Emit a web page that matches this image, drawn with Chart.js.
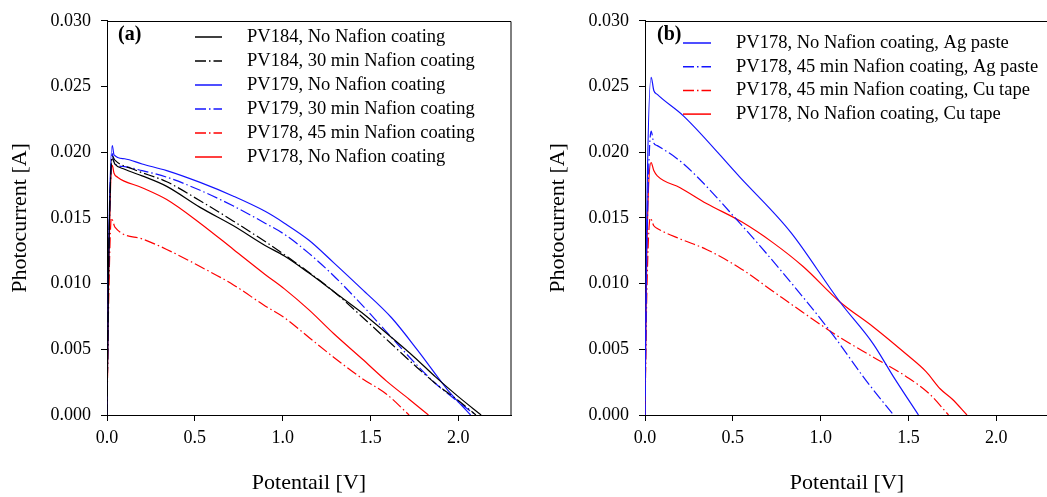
<!DOCTYPE html>
<html>
<head>
<meta charset="utf-8">
<script src="https://cdn.jsdelivr.net/npm/chart.js@4.4.0/dist/chart.umd.min.js"></script>
<style>
  html, body { margin: 0; padding: 0; background: #fff; overflow: hidden; }
  body { width: 1047px; height: 497px; position: relative; }
  canvas { position: absolute; top: 0; }
  #chartA { left: 0; }
  #chartB { left: 538px; }
</style>
</head>
<body>
<canvas id="chartA" width="530" height="497"></canvas>
<canvas id="chartB" width="530" height="497"></canvas>
<script>
// axis ticks
const xTicks = [0, 0.5, 1.0, 1.5, 2.0];
const yTicks = [0, 0.005, 0.010, 0.015, 0.020, 0.025, 0.030];

// panel (a) series, potential [V] / photocurrent [A]
const pv184NoV = [0, 0.01, 0.03, 0.045, 0.1, 0.2, 0.34, 0.53, 0.72, 0.9, 1.01, 1.15, 1.29, 1.45, 1.62, 1.75, 1.87, 2.0, 2.13];
const pv184NoI = [0, 0.012, 0.0195, 0.0191, 0.0187, 0.0182, 0.0174, 0.0158, 0.0144, 0.0129, 0.0121, 0.0108, 0.0094, 0.0078, 0.0059, 0.0044, 0.0029, 0.0014, 0];

const pv184CoatV = [0, 0.01, 0.03, 0.045, 0.15, 0.34, 0.53, 0.72, 1.01, 1.29, 1.45, 1.62, 1.75, 1.87, 2.0, 2.10];
const pv184CoatI = [0, 0.012, 0.0197, 0.0194, 0.0187, 0.01775, 0.0163, 0.01475, 0.0122, 0.0094, 0.0075, 0.0054, 0.0038, 0.0024, 0.0011, 0];

const pv179NoV = [0, 0.01, 0.03, 0.04, 0.1, 0.2, 0.34, 0.53, 0.72, 0.9, 1.01, 1.15, 1.29, 1.45, 1.62, 1.77, 1.94, 2.07];
const pv179NoI = [0, 0.013, 0.0205, 0.0198, 0.0195, 0.0191, 0.0186, 0.0177, 0.01665, 0.0155, 0.0146, 0.0133, 0.0116, 0.0096, 0.0074, 0.0049, 0.0019, 0];

const pv179CoatV = [0, 0.01, 0.03, 0.04, 0.1, 0.2, 0.34, 0.53, 0.72, 0.9, 1.01, 1.15, 1.29, 1.45, 1.62, 1.75, 1.87, 2.0, 2.10];
const pv179CoatI = [0, 0.012, 0.0199, 0.0192, 0.0189, 0.0186, 0.0181, 0.0171, 0.0159, 0.0146, 0.01375, 0.0123, 0.0106, 0.0084, 0.0059, 0.0040, 0.0024, 0.0010, 0];

const pv178CoatV = [0, 0.01, 0.025, 0.045, 0.2, 0.34, 0.53, 0.72, 0.9, 1.01, 1.15, 1.29, 1.45, 1.59, 1.72];
const pv178CoatI = [0, 0.009, 0.015, 0.0143, 0.0134, 0.0126, 0.0113, 0.0099, 0.0083, 0.0074, 0.0059, 0.0044, 0.0028, 0.0016, 0];

const pv178NoV = [0, 0.01, 0.03, 0.04, 0.06, 0.2, 0.34, 0.53, 0.72, 0.9, 1.01, 1.15, 1.29, 1.45, 1.59, 1.72, 1.83];
const pv178NoI = [0, 0.011, 0.019, 0.0184, 0.0181, 0.0173, 0.0164, 0.0146, 0.0126, 0.0107, 0.0096, 0.0080, 0.0062, 0.0043, 0.0026, 0.0012, 0];

// panel (b) series
const agNoV = [0, 0.01, 0.035, 0.05, 0.07, 0.22, 0.54, 0.83, 1.11, 1.30, 1.415, 1.557];
const agNoI = [0, 0.015, 0.0257, 0.0247, 0.0244, 0.02275, 0.0181, 0.0139, 0.0086, 0.0054, 0.0029, 0];

const agCoatV = [0, 0.01, 0.035, 0.05, 0.07, 0.22, 0.54, 0.83, 1.07, 1.26, 1.415];
const agCoatI = [0, 0.012, 0.0216, 0.0207, 0.0205, 0.0191, 0.0146, 0.0101, 0.0061, 0.0026, 0];

const cuCoatV = [0, 0.01, 0.03, 0.05, 0.07, 0.2, 0.35, 0.55, 0.73, 0.9, 1.11, 1.3, 1.49, 1.62, 1.728];
const cuCoatI = [0, 0.009, 0.015, 0.0144, 0.0142, 0.0134, 0.0126, 0.0111, 0.0094, 0.0078, 0.0059, 0.0044, 0.0029, 0.0016, 0];

const cuNoV = [0, 0.01, 0.035, 0.05, 0.07, 0.2, 0.35, 0.55, 0.73, 0.9, 1.11, 1.3, 1.49, 1.6, 1.68, 1.75, 1.833];
const cuNoI = [0, 0.012, 0.0192, 0.0186, 0.0182, 0.0173, 0.0161, 0.0147, 0.0131, 0.0113, 0.0086, 0.0067, 0.0046, 0.0033, 0.0020, 0.0012, 0];

const FONT = "'Liberation Serif', 'Times New Roman', serif";
const DASH_DOT = [11, 3, 1.5, 3];

function points(vs, is) {
  return vs.map((v, i) => ({ x: v, y: is[i] }));
}

function series(label, vs, is, color, dashed) {
  return {
    label: label,
    data: points(vs, is),
    borderColor: color,
    borderWidth: 1.2,
    borderDash: dashed ? DASH_DOT : [],
    pointRadius: 0,
    fill: false,
    cubicInterpolationMode: "monotone"
  };
}

// legend, panel tag and top/right frame drawn inside the plot
const innerLegend = {
  id: "innerLegend",
  afterDatasetsDraw(chart, args, opts) {
    const ctx = chart.ctx;
    const area = chart.chartArea;
    ctx.save();
    ctx.font = "18.5px " + FONT;
    ctx.textBaseline = "middle";
    chart.data.datasets.forEach((ds, i) => {
      const y = opts.top + i * opts.row;
      ctx.strokeStyle = ds.borderColor;
      ctx.lineWidth = 1.5;
      ctx.setLineDash(ds.borderDash);
      ctx.beginPath();
      ctx.moveTo(opts.lineStart, y);
      ctx.lineTo(opts.lineEnd, y);
      ctx.stroke();
      ctx.setLineDash([]);
      ctx.fillStyle = "#000";
      ctx.fillText(ds.label, opts.textStart, y);
    });
    ctx.font = "bold 20px " + FONT;
    ctx.fillText(opts.tag, opts.tagX, opts.tagY);

    ctx.strokeStyle = "#000";
    ctx.lineWidth = 1;
    ctx.beginPath();
    ctx.moveTo(area.left, Math.round(area.top) + 0.5);
    ctx.lineTo(area.right, Math.round(area.top) + 0.5);
    ctx.lineTo(area.right, area.bottom);
    ctx.stroke();
    ctx.restore();
  }
};

function makeChart(id, datasets, legendOpts) {
  return new Chart(document.getElementById(id), {
    type: "line",
    data: { datasets: datasets },
    plugins: [innerLegend],
    options: {
      responsive: false,
      animation: false,
      layout: { padding: { top: 13, right: 19, left: 0, bottom: 0 } },
      plugins: {
        legend: { display: false },
        tooltip: { enabled: false },
        innerLegend: legendOpts
      },
      scales: {
        x: {
          type: "linear",
          min: 0,
          max: 2.3,
          afterBuildTicks: (scale) => { scale.ticks = xTicks.map((v) => ({ value: v })); },
          afterFit: (scale) => { scale.height = 82; },
          ticks: {
            color: "#000",
            padding: 6,
            font: { family: FONT, size: 18 },
            callback: (v) => Number(v).toFixed(1),
            maxRotation: 0
          },
          grid: { drawOnChartArea: false, drawTicks: true, tickLength: 6, color: "#000" },
          border: { display: true, color: "#000", width: 1 },
          title: {
            display: true,
            text: "Potentail [V]",
            color: "#000",
            font: { family: FONT, size: 22 },
            padding: { top: 0, bottom: 1 }
          }
        },
        y: {
          type: "linear",
          min: 0,
          max: 0.03,
          afterBuildTicks: (scale) => { scale.ticks = yTicks.map((v) => ({ value: v })); },
          afterFit: (scale) => { scale.width = 107; },
          ticks: {
            color: "#000",
            padding: 10,
            font: { family: FONT, size: 18 },
            callback: (v) => Number(v).toFixed(3)
          },
          grid: { drawOnChartArea: false, drawTicks: true, tickLength: 6, color: "#000" },
          border: { display: true, color: "#000", width: 1 },
          title: {
            display: true,
            text: "Photocurrent [A]",
            color: "#000",
            font: { family: FONT, size: 22 },
            padding: { top: 7, bottom: 0 }
          }
        }
      }
    }
  });
}

makeChart("chartA", [
  series("PV184, No Nafion coating", pv184NoV, pv184NoI, "#000", false),
  series("PV184, 30 min Nafion coating", pv184CoatV, pv184CoatI, "#000", true),
  series("PV179, No Nafion coating", pv179NoV, pv179NoI, "#1414ff", false),
  series("PV179, 30 min Nafion coating", pv179CoatV, pv179CoatI, "#1414ff", true),
  series("PV178, 45 min Nafion coating", pv178CoatV, pv178CoatI, "#ff0000", true),
  series("PV178, No Nafion coating", pv178NoV, pv178NoI, "#ff0000", false)
], { top: 37, row: 24, lineStart: 195, lineEnd: 222, textStart: 247, tag: "(a)", tagX: 118, tagY: 35 });

makeChart("chartB", [
  series("PV178, No Nafion coating, Ag paste", agNoV, agNoI, "#1414ff", false),
  series("PV178, 45 min Nafion coating, Ag paste", agCoatV, agCoatI, "#1414ff", true),
  series("PV178, 45 min Nafion coating, Cu tape", cuCoatV, cuCoatI, "#ff0000", true),
  series("PV178, No Nafion coating, Cu tape", cuNoV, cuNoI, "#ff0000", false)
], { top: 43, row: 23.7, lineStart: 145, lineEnd: 173, textStart: 198, tag: "(b)", tagX: 119, tagY: 35 });
</script>
</body>
</html>
